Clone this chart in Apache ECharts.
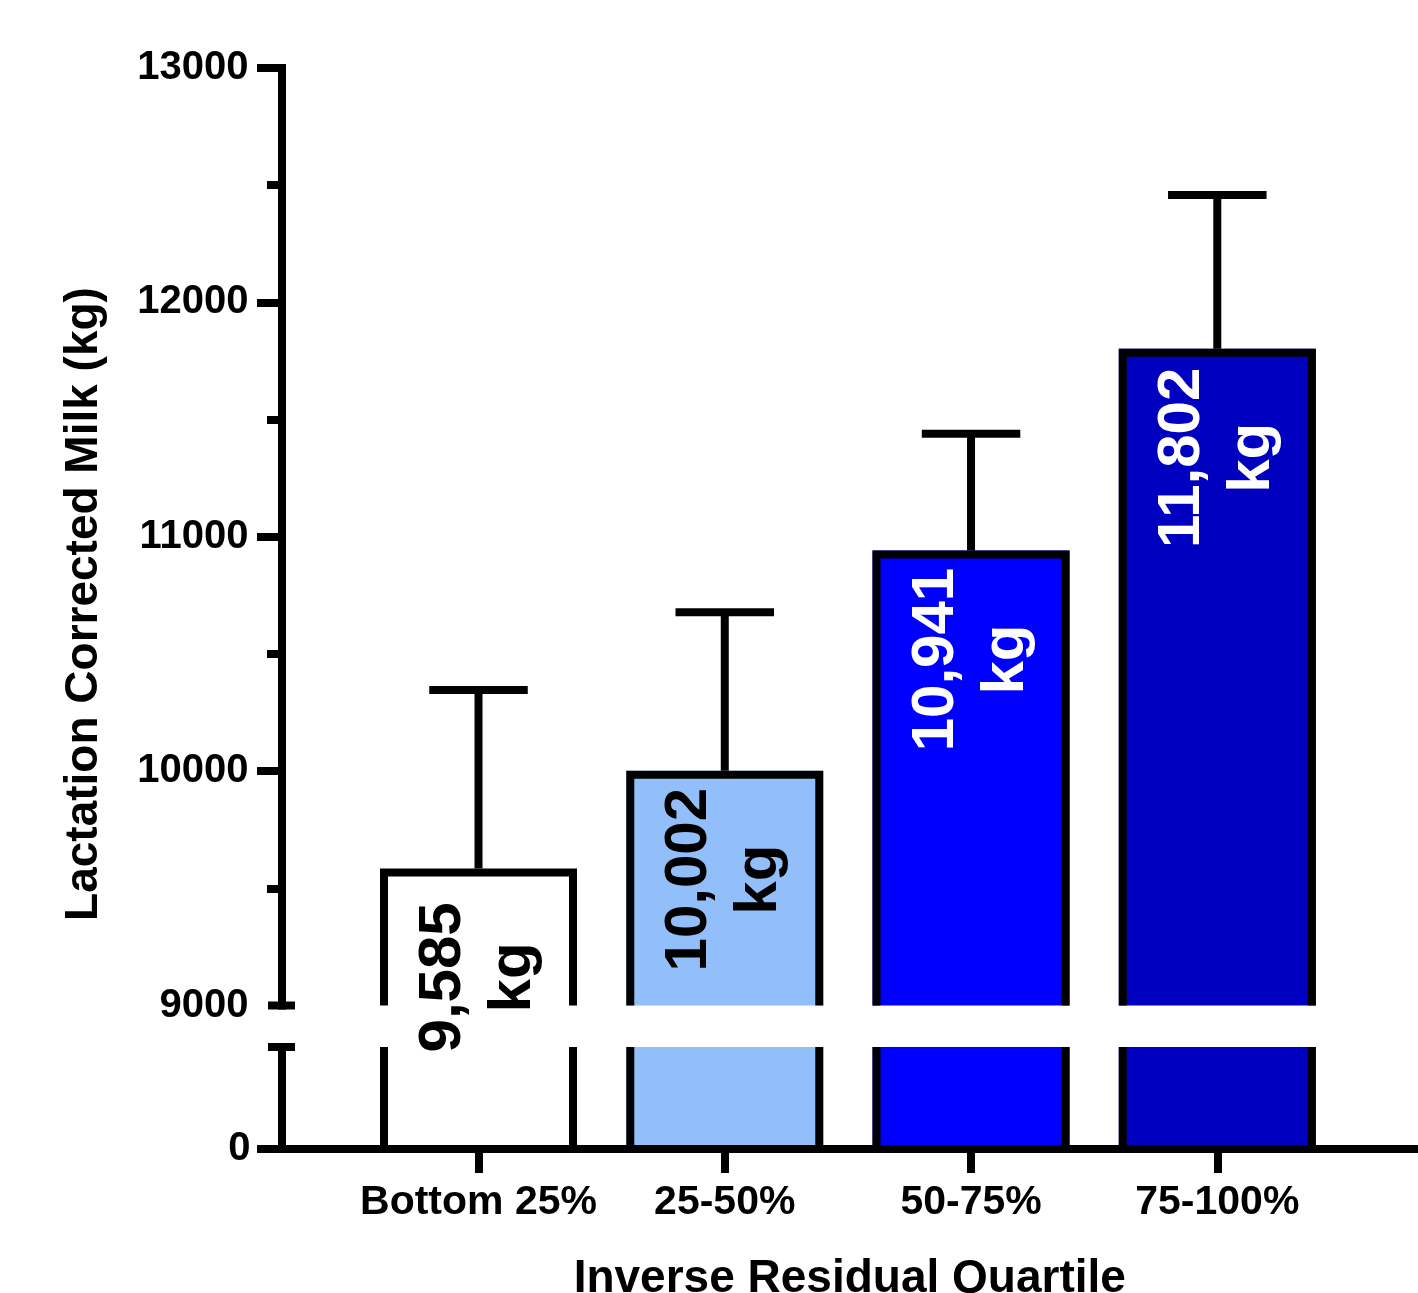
<!DOCTYPE html>
<html>
<head>
<meta charset="utf-8">
<title>Lactation Corrected Milk by Inverse Residual Quartile</title>
<script src="https://cdn.jsdelivr.net/npm/echarts@6/dist/echarts.min.js"></script>
<style>
  html, body { margin: 0; padding: 0; background: #ffffff; }
  #chart { width: 1418px; height: 1293px; }
</style>
</head>
<body>
<div id="chart"></div>
<script>
// ---- data ----
const categories = ['Bottom 25%', '25-50%', '50-75%', '75-100%'];
const meanMilk = [9585, 10002, 10941, 11802];   // kg
const sdMilk = [761, 676, 499, 656];            // upper error bar length, kg
const upperTicks = [10000, 11000, 12000, 13000];
const lowerTicks = [0];

// ---- styling ----
const FONT = '"Liberation Sans", Arial, Helvetica, sans-serif';
const barFills = ['#ffffff', '#92bff9', '#0000ff', '#0000c0'];
const labelInk = ['#000000', '#000000', '#ffffff', '#ffffff'];
const INK = '#000000';
const LINE = 8;
const X_MIN = 0.2, X_MAX = 4.815;
const UPPER_MIN = 9000, UPPER_MAX = 13000;
const LOWER_MAX = 500;
const BAR_W = 0.8;      // bar width in category units
const CAP_W = 0.4;      // error-bar cap width in category units
const LABEL_SHIFT = 109; // label centre below bar top, px
const LINE_GAP = 35;     // half distance between the two label lines, px
const BREAK_HALF = 13.5; // half length of the axis-break marks, px

const positions = categories.map((_, i) => i + 1);
const rows = categories.map((_, i) => [positions[i], meanMilk[i], sdMilk[i]]);

const stroke = { stroke: INK, lineWidth: LINE, fill: 'none' };

function labelText(x, y, text, color) {
  return {
    type: 'text', x: x, y: y, rotation: Math.PI / 2,
    style: {
      text: text, fill: color, fontSize: 60, fontWeight: 'bold', fontFamily: FONT,
      align: 'center', verticalAlign: 'middle'
    }
  };
}

// upper segment: bar top, border, error bar and value label
function renderUpper(params, api) {
  const i = params.dataIndex;
  const x = api.value(0), v = api.value(1), sd = api.value(2);
  const top = api.coord([x, v]);
  const base = api.coord([x, UPPER_MIN]);
  const err = api.coord([x, v + sd]);
  const w = api.size([BAR_W, 0])[0];
  const cw = api.size([CAP_W, 0])[0];
  const cx = top[0], h = LINE / 2;
  const l = cx - w / 2, r = cx + w / 2;
  const mid = top[1] + LABEL_SHIFT;
  return {
    type: 'group',
    children: [
      { type: 'rect', shape: { x: l, y: top[1], width: w, height: base[1] - top[1] },
        style: { fill: barFills[i], stroke: 'none' } },
      { type: 'polyline',
        shape: { points: [[l + h, base[1]], [l + h, top[1] + h], [r - h, top[1] + h], [r - h, base[1]]] },
        style: Object.assign({ lineJoin: 'miter' }, stroke) },
      { type: 'line', shape: { x1: cx, y1: top[1], x2: cx, y2: err[1] }, style: stroke },
      { type: 'line', shape: { x1: cx - cw / 2, y1: err[1], x2: cx + cw / 2, y2: err[1] }, style: stroke },
      labelText(cx - LINE_GAP, mid, v.toLocaleString('en-US'), labelInk[i]),
      labelText(cx + LINE_GAP, mid, 'kg', labelInk[i])
    ]
  };
}

// lower segment: bar stubs from zero up to the break
function renderLower(params, api) {
  const i = params.dataIndex;
  const x = api.value(0), v = api.value(1);
  const top = api.coord([x, Math.min(v, LOWER_MAX)]);
  const base = api.coord([x, 0]);
  const w = api.size([BAR_W, 0])[0];
  const cx = top[0], h = LINE / 2;
  const l = cx - w / 2, r = cx + w / 2;
  return {
    type: 'group',
    children: [
      { type: 'rect', shape: { x: l, y: top[1], width: w, height: base[1] - h - top[1] },
        style: { fill: barFills[i], stroke: 'none' } },
      { type: 'line', shape: { x1: l + h, y1: top[1], x2: l + h, y2: base[1] }, style: stroke },
      { type: 'line', shape: { x1: r - h, y1: top[1], x2: r - h, y2: base[1] }, style: stroke }
    ]
  };
}

// short cross marks where the value axis is broken
function renderBreak(params, api) {
  const p = api.coord([api.value(0), api.value(1)]);
  return { type: 'line', shape: { x1: p[0] - BREAK_HALF, y1: p[1], x2: p[0] + BREAK_HALF, y2: p[1] }, style: stroke };
}

const tickLabel = {
  color: INK, fontSize: 40, fontWeight: 'bold', fontFamily: FONT,
  formatter: v => String(v)
};

const option = {
  animation: false,
  backgroundColor: '#ffffff',
  grid: [
    { left: 281.5, right: 0, top: 68, bottom: 287.5, outerBoundsMode: 'none', containLabel: false },
    { left: 281.5, right: 0, top: 1047, bottom: 144, outerBoundsMode: 'none', containLabel: false }
  ],
  xAxis: [
    { gridIndex: 0, type: 'value', min: X_MIN, max: X_MAX, show: false },
    {
      gridIndex: 1, type: 'value', min: X_MIN, max: X_MAX,
      axisLine: { show: true, onZero: false, lineStyle: { color: INK, width: LINE } },
      axisTick: { show: true, customValues: positions, length: 24, lineStyle: { color: INK, width: LINE } },
      axisLabel: {
        customValues: positions, margin: 33,
        formatter: v => categories[Math.round(v) - 1],
        color: INK, fontSize: 41, fontWeight: 'bold', fontFamily: FONT
      },
      splitLine: { show: false },
      name: 'Inverse Residual Quartile', nameLocation: 'middle', nameGap: 107,
      nameTextStyle: { color: INK, fontSize: 46, fontWeight: 'bold', fontFamily: FONT }
    }
  ],
  yAxis: [
    {
      gridIndex: 0, type: 'value', min: UPPER_MIN, max: UPPER_MAX, interval: 1000,
      axisLine: { show: true, lineStyle: { color: INK, width: LINE, cap: 'square' } },
      axisTick: { show: true, customValues: upperTicks, length: 24.5, lineStyle: { color: INK, width: LINE } },
      minorTick: { show: true, splitNumber: 2, length: 14.5, lineStyle: { color: INK, width: LINE } },
      axisLabel: Object.assign({ margin: 33 }, tickLabel),
      splitLine: { show: false }, minorSplitLine: { show: false }
    },
    {
      gridIndex: 1, type: 'value', min: 0, max: LOWER_MAX,
      axisLine: { show: true, lineStyle: { color: INK, width: LINE, cap: 'square' } },
      axisTick: { show: true, customValues: lowerTicks, length: 24.5, lineStyle: { color: INK, width: LINE } },
      axisLabel: Object.assign({ margin: 31, customValues: lowerTicks }, tickLabel),
      splitLine: { show: false }
    }
  ],
  graphic: [{
    type: 'text', x: 84, y: 604, rotation: Math.PI / 2,
    style: {
      text: 'Lactation Corrected Milk (kg)', fill: INK,
      fontSize: 46, fontWeight: 'bold', fontFamily: FONT,
      align: 'center', verticalAlign: 'middle'
    }
  }],
  series: [
    { type: 'custom', name: 'lower', xAxisIndex: 1, yAxisIndex: 1, data: rows, renderItem: renderLower, z: 2 },
    { type: 'custom', name: 'upper', xAxisIndex: 0, yAxisIndex: 0, data: rows, renderItem: renderUpper, z: 3 },
    { type: 'custom', name: 'breakUpper', xAxisIndex: 0, yAxisIndex: 0, data: [[X_MIN, UPPER_MIN]], renderItem: renderBreak, z: 4 },
    { type: 'custom', name: 'breakLower', xAxisIndex: 1, yAxisIndex: 1, data: [[X_MIN, LOWER_MAX]], renderItem: renderBreak, z: 4 }
  ]
};

const chart = echarts.init(document.getElementById('chart'), null, { renderer: 'canvas' });
chart.setOption(option);
</script>
</body>
</html>
